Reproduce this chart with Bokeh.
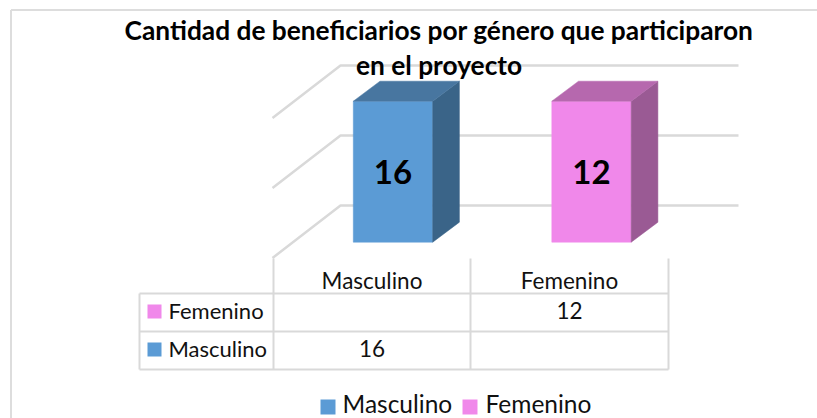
from bokeh.plotting import figure
from bokeh.models import Range1d
from bokeh.core.properties import value
from bokeh.embed import file_html
from bokeh.resources import INLINE

# --- data ---
title_lines = ["Cantidad de beneficiarios por género que participaron", "en el proyecto"]
categories = ["Masculino", "Femenino"]
values = [16, 12]
axis_max = 10          # the reference's value axis stops here and both bars are cut off at it
grid_values = [0, 5, 10]
table_rows = ["Femenino", "Masculino"]
table_cells = {"Femenino": ["", "12"], "Masculino": ["16", ""]}
front_colors = ["#5B9BD5", "#F088EA"]
side_colors = ["#3A6488", "#9A5A94"]
top_colors = ["#4876A0", "#B668AE"]
color_of = dict(zip(categories, front_colors))

# --- scales: x = category index, y = value ---
W, H = 817, 418
X0, XU = 392.5, 198.5     # pixel of category 0, pixels per category
Y0, YU = 241.7, 14.1      # pixel of value 0, pixels per value unit


def fx(px):
    return (px - X0) / XU


def fy(py):
    return (Y0 - py) / YU


p = figure(width=W, height=H, output_backend="svg", toolbar_location=None,
           x_range=Range1d(fx(0), fx(W)), y_range=Range1d(fy(H), fy(0)),
           min_border=0, outline_line_color=None, background_fill_color="white",
           border_fill_color="white")
p.axis.visible = False
p.grid.visible = False

GRID = "#D9D9D9"
FONT = value("Lato")

# chart area border (top and left only are visible)
p.line([fx(10.5), fx(10.5)], [fy(418), fy(9.5)], line_color="#DDDDDD", line_width=2)
p.line([fx(10.5), fx(817)], [fy(9.5), fy(9.5)], line_color="#DDDDDD", line_width=2)

# 3D depth
bar_w = 0.2
dx = 26.7 / XU
dy = 20.0 / YU
wall_dx, wall_dy = 68 / XU, 52.5 / YU
wall_left = fx(340)
wall_right = fx(738)

for g in grid_values:
    wy = fy(205) + g * (70 / YU) / 5
    p.line([wall_left - wall_dx, wall_left, wall_right],
           [wy - wall_dy, wy, wy], line_color=GRID, line_width=2.5)

for i, v in enumerate(values):
    h = min(v, axis_max)
    l, r = i - bar_w, i + bar_w
    p.patch([l, r, r, l], [0, 0, h, h], fill_color=front_colors[i], line_color=front_colors[i], line_width=0.5)
    p.patch([r, r + dx, r + dx, r], [0, dy, h + dy, h], fill_color=side_colors[i], line_color=side_colors[i], line_width=0.5)
    p.patch([l, r, r + dx, l + dx], [h, h, h + dy, h + dy], fill_color=top_colors[i], line_color=top_colors[i], line_width=0.5)
    p.text([i], [h / 2], text=[str(v)], text_font=FONT, text_font_style="bold",
           text_font_size="33px", text_align="center", text_baseline="middle", text_color="black")

# title
for line, py in zip(title_lines, [29, 64]):
    p.text([fx(438.5)], [fy(py)], text=[line], text_font=FONT, text_font_style="bold",
           text_font_size="26.3px", text_align="center", text_baseline="middle", text_color="black")

# data table
t_left, t_a, t_b, t_c = fx(139), fx(273), fx(470), fx(668)
y_top, y_1, y_2, y_3 = fy(258), fy(293), fy(331), fy(369)
for yy in (y_1, y_2, y_3):
    p.line([t_left, t_c], [yy, yy], line_color=GRID, line_width=2)
p.line([t_left, t_left], [y_1, y_3], line_color=GRID, line_width=2)
for xx in (t_a, t_b, t_c):
    p.line([xx, xx], [y_top, y_3], line_color=GRID, line_width=2)

col_x = [(t_a + t_b) / 2, (t_b + t_c) / 2]
for c, cx in zip(categories, col_x):
    p.text([cx], [fy(280)], text=[c], text_font=FONT, text_font_size="22.5px",
           text_align="center", text_baseline="middle", text_color="#111111")

for row, py in zip(table_rows, [310, 348]):
    p.quad(left=[fx(147)], right=[fx(161)], top=[fy(py - 6)], bottom=[fy(py + 8)],
           fill_color=color_of[row], line_color=None)
    p.text([fx(168)], [fy(py)], text=[row], text_font=FONT, text_font_size="22px",
           text_align="left", text_baseline="middle", text_color="#111111")
    for cell, cx in zip(table_cells[row], col_x):
        if cell:
            p.text([cx], [fy(py)], text=[cell], text_font=FONT, text_font_size="22.5px",
                   text_align="center", text_baseline="middle", text_color="#111111")

# legend
for c, sq, tx in zip(categories, [320, 462], [342, 485]):
    p.quad(left=[fx(sq)], right=[fx(sq + 15)], top=[fy(399)], bottom=[fy(414)],
           fill_color=color_of[c], line_color=None)
    p.text([fx(tx)], [fy(403)], text=[c], text_font=FONT, text_font_size="24.5px",
           text_align="left", text_baseline="middle", text_color="#111111")

open("out.html", "w").write(file_html(p, INLINE))
